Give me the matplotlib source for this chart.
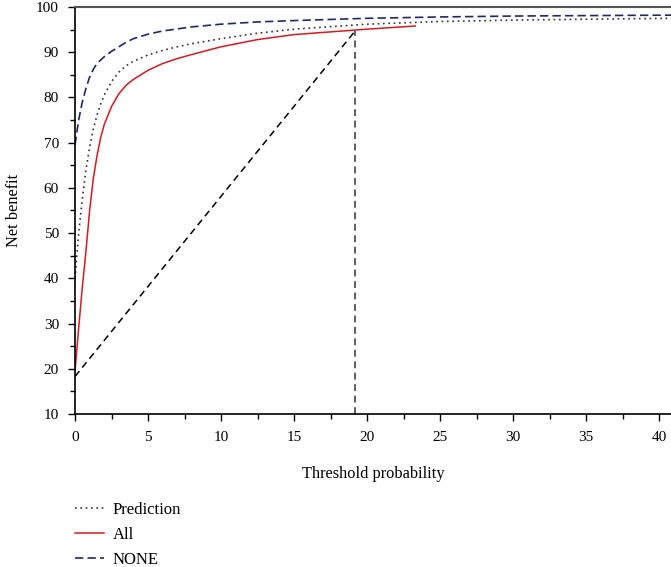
import matplotlib.pyplot as plt

plt.rcParams['font.family'] = ['Liberation Serif', 'DejaVu Serif']

# threshold probability (%) and net benefit
x_pred = [0, 0.25, 0.5, 0.75, 1, 1.25, 1.5, 1.75, 2, 2.5, 3, 3.5, 4, 5, 6, 7, 8, 10, 12.5, 15, 20, 25, 30, 35, 40.8]
y_pred = [40, 50, 57.5, 64, 69, 73, 76, 78.5, 80.5, 83.5, 85.6, 87, 88, 89.4, 90.4, 91.2, 91.9, 93, 94.2, 95.1, 96.2, 96.8, 97.1, 97.3, 97.5]

x_all = [0, 0.25, 0.5, 0.75, 1, 1.25, 1.5, 1.75, 2, 2.5, 3, 3.5, 4, 5, 6, 7, 8, 10, 12.5, 15, 20, 23.3]
y_all = [19.5, 29, 38, 46, 55, 62, 67, 71, 74, 78, 80.8, 82.7, 84, 86, 87.5, 88.6, 89.5, 91.2, 92.8, 93.9, 95.1, 95.8]

x_none = [0, 0.25, 0.5, 0.75, 1, 1.25, 1.5, 2, 2.5, 3, 3.5, 4, 5, 6, 8, 10, 12.5, 15, 20, 25, 30, 35, 40.8]
y_none = [69.5, 75, 79, 82, 84.5, 86.2, 87.5, 89, 90.2, 91.2, 92.2, 93, 94, 94.7, 95.6, 96.2, 96.7, 97, 97.5, 97.8, 98, 98.1, 98.2]

# reference diagonal and cut-off
ref_x = [0, 19.2]
ref_y = [18.3, 94.8]
cut_x = 19.2

fig = plt.figure(figsize=(6.71, 5.67), dpi=100)
ax = fig.add_axes([75/671, 1-414/567, (671-75)/671, (414-7)/567])

ax.plot(x_pred, y_pred, color='#333333', lw=1.2, linestyle=(0, (1, 2.2)), label='Prediction')
ax.plot(x_all, y_all, color='#d71920', lw=1.1, label='All')
ax.plot(x_none, y_none, color='#1b2a6b', lw=1.2, linestyle=(0, (5, 2.5)), label='NONE')
ax.plot(ref_x, ref_y, color='black', lw=1.1, linestyle=(0, (4.5, 3)))
ax.plot([cut_x, cut_x], [10, ref_y[1]], color='#333333', lw=1.1, linestyle=(0, (4.5, 3)))

ax.set_xlim(0, 40.8)
ax.set_ylim(10, 100)
ax.set_xticks(range(0, 41, 5))
ax.set_xticks([2.5 + 5*i for i in range(8)], minor=True)
ax.set_yticks(range(10, 101, 10))
ax.set_yticks(range(15, 100, 10), minor=True)
ax.tick_params(axis='both', which='major', length=5, width=1, labelsize=11, direction='out')
ax.tick_params(axis='both', which='minor', length=3.6, width=1, direction='out')
ax.tick_params(axis='x', which='major', pad=7.5)
ax.tick_params(axis='y', which='major', pad=6.5)

ax.spines['right'].set_visible(False)
ax.spines['top'].set_color('#555555')
ax.spines['top'].set_linewidth(1.5)
ax.spines['left'].set_linewidth(1.2)
ax.spines['bottom'].set_linewidth(1.2)

ax.set_xlabel('Threshold probability', fontsize=11.8, labelpad=15.5)
ax.set_ylabel('Net benefit', fontsize=11.8, labelpad=10.5)

h, l = ax.get_legend_handles_labels()
fig.legend(h, l, loc='upper left', bbox_to_anchor=(68/671, 1-495/567), frameon=False,
           fontsize=12, handlelength=1.75, handletextpad=0.55, labelspacing=0.55, borderaxespad=0)

fig.savefig('out.png', dpi=100)
